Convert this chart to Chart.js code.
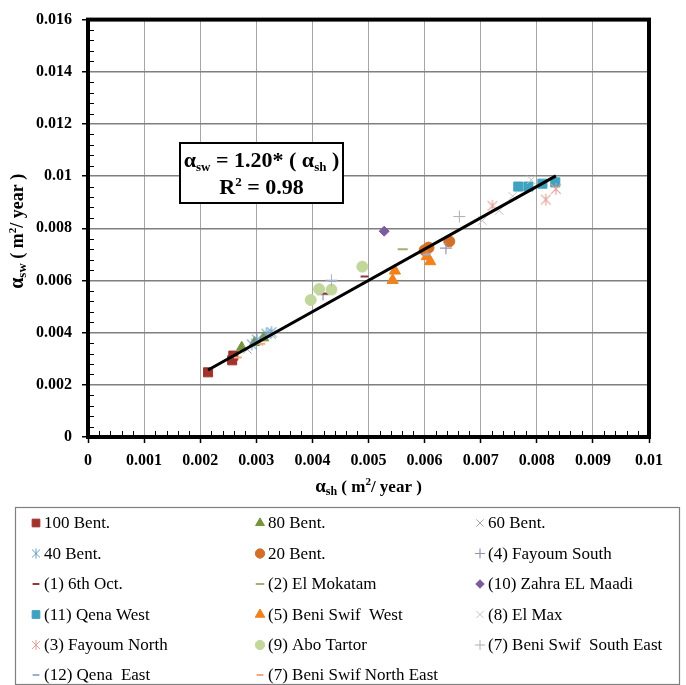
<!DOCTYPE html>
<html>
<head>
<meta charset="utf-8">
<script src="https://cdn.jsdelivr.net/npm/chart.js"></script>
<style>
  html, body { margin: 0; padding: 0; background: #ffffff; }
  canvas { display: block; }
</style>
</head>
<body>
<canvas id="chart" width="686" height="685"></canvas>
<script>
// Shear-stress coefficient pairs [alpha_sh, alpha_sw] in m2/year, one array per soil group
const bent100      = [[0.00214, 0.00248], [0.00257, 0.00294], [0.00259, 0.00312]];
const bent80       = [[0.00274, 0.00344], [0.00297, 0.00362], [0.00313, 0.00380]];
const bent60       = [[0.00284, 0.00336], [0.00304, 0.00366], [0.00327, 0.00392]];
const bent40       = [[0.00292, 0.00355], [0.00301, 0.00373], [0.00318, 0.00396], [0.00327, 0.00402]];
const bent20       = [[0.00600, 0.00716], [0.00607, 0.00726], [0.00644, 0.00750]];
const fayoumSouth  = [[0.00419, 0.00546], [0.00638, 0.00724]];
const october6     = [[0.00421, 0.00550], [0.00493, 0.00615]];
const elMokatam    = [[0.00561, 0.00720]];
const zahraMaadi   = [[0.00528, 0.00789]];
const qenaWest     = [[0.00767, 0.00960], [0.00785, 0.00960], [0.00810, 0.00971], [0.00833, 0.00976]];
const beniSwifWest = [[0.00543, 0.00601], [0.00547, 0.00637], [0.00604, 0.00692], [0.00610, 0.00673]];
const elMax        = [[0.00703, 0.00829], [0.00733, 0.00868], [0.00757, 0.00923], [0.00790, 0.00986]];
const fayoumNorth  = [[0.00721, 0.00886], [0.00816, 0.00910], [0.00834, 0.00951]];
const aboTartor    = [[0.00397, 0.00525], [0.00412, 0.00567], [0.00434, 0.00565], [0.00489, 0.00653]];
const beniSwifSE   = [[0.00434, 0.00601], [0.00662, 0.00845]];
const qenaEast     = [[0.00436, 0.00598], [0.00604, 0.00700]];
const beniSwifNE   = [[0.00267, 0.00305], [0.00309, 0.00357]];

const seriesNames = [
  '100 Bent.', '80 Bent.', '60 Bent.', '40 Bent.', '20 Bent.', '(4) Fayoum South',
  '(1) 6th Oct.', '(2) El Mokatam', '(10) Zahra EL Maadi', '(11) Qena West',
  '(5) Beni Swif  West', '(8) El Max', '(3) Fayoum North', '(9) Abo Tartor',
  '(7) Beni Swif  South East', '(12) Qena  East', '(7) Beni Swif North East'
];
const seriesData = [
  bent100, bent80, bent60, bent40, bent20, fayoumSouth, october6, elMokatam, zahraMaadi,
  qenaWest, beniSwifWest, elMax, fayoumNorth, aboTartor, beniSwifSE, qenaEast, beniSwifNE
];

// Fitted relation alpha_sw = 1.20 * alpha_sh, drawn over the measured range
const fitSlope = 1.20;
const fitRSquared = 0.98;
const fitRange = [0.00214, 0.00834];

// Axis ticks
const xTickLabels = ['0', '0.001', '0.002', '0.003', '0.004', '0.005', '0.006', '0.007', '0.008', '0.009', '0.01'];
const yTickLabels = ['0', '0.002', '0.004', '0.006', '0.008', '0.01', '0.012', '0.014', '0.016'];

// Six-armed asterisk marker (an X crossed by a vertical stroke)
function asterisk(color, size, lw) {
  const c = document.createElement('canvas');
  c.width = size; c.height = size;
  const g = c.getContext('2d');
  const h = size / 2, r = size / 2 - 1, d = r * 0.8;
  g.strokeStyle = color;
  g.lineWidth = lw;
  g.beginPath();
  g.moveTo(h, h - r); g.lineTo(h, h + r);
  g.moveTo(h - d, h - d); g.lineTo(h + d, h + d);
  g.moveTo(h + d, h - d); g.lineTo(h - d, h + d);
  g.stroke();
  return c;
}

// Marker appearance per series (same order as seriesNames)
const markerStyles = [
  { pointStyle: 'rect',     radius: 6.4, fill: '#A0332D', stroke: '#A0332D', width: 1 },
  { pointStyle: 'triangle', radius: 6,   fill: '#77933C', stroke: '#77933C', width: 1 },
  { pointStyle: 'crossRot', radius: 6,   fill: '#A6A6A6', stroke: '#A6A6A6', width: 1 },
  { pointStyle: asterisk('#6B9FC4', 14, 1.1), legendStyle: asterisk('#6B9FC4', 12, 1), radius: 7, fill: '#6B9FC4', stroke: '#6B9FC4', width: 1 },
  { pointStyle: 'circle',   radius: 5.5, fill: '#D2702A', stroke: '#D2702A', width: 1 },
  { pointStyle: 'cross',    radius: 6,   fill: '#9893B3', stroke: '#9893B3', width: 1.2 },
  { pointStyle: 'line',     radius: 4,   fill: '#8E3A3A', stroke: '#8E3A3A', width: 2 },
  { pointStyle: 'line',     radius: 5,   fill: '#A8AE6C', stroke: '#A8AE6C', width: 2 },
  { pointStyle: 'rectRot',  radius: 5,   fill: '#7E5A9E', stroke: '#7E5A9E', width: 1 },
  { pointStyle: 'rect',     radius: 6.4, fill: '#3FA2C0', stroke: '#3FA2C0', width: 1 },
  { pointStyle: 'triangle', radius: 6.5, fill: '#F0821E', stroke: '#F0821E', width: 1 },
  { pointStyle: 'crossRot', radius: 6,   fill: '#C3C3C3', stroke: '#C3C3C3', width: 1 },
  { pointStyle: asterisk('#E0A095', 14, 1.1), legendStyle: asterisk('#E0A095', 12, 1), radius: 7, fill: '#E0A095', stroke: '#E0A095', width: 1 },
  { pointStyle: 'circle',   radius: 5.5, fill: '#C3D69B', stroke: '#C3D69B', width: 1 },
  { pointStyle: 'cross',    radius: 6,   fill: '#B0B0B0', stroke: '#B0B0B0', width: 1 },
  { pointStyle: 'line',     radius: 4,   fill: '#9AAECF', stroke: '#9AAECF', width: 2 },
  { pointStyle: 'line',     radius: 4,   fill: '#F3A97E', stroke: '#F3A97E', width: 2 }
];

const SERIF = '"Liberation Serif", "Times New Roman", serif';
Chart.defaults.font.family = SERIF;
Chart.defaults.color = '#000000';

const datasets = seriesData.map((pairs, i) => {
  const st = markerStyles[i];
  return {
    type: 'scatter',
    label: seriesNames[i],
    data: pairs.map(p => ({ x: p[0], y: p[1] })),
    pointStyle: st.pointStyle,
    pointRadius: st.radius,
    pointBackgroundColor: st.fill,
    pointBorderColor: st.stroke,
    pointBorderWidth: st.width,
    showLine: false,
    order: 100 - i
  };
});
datasets.push({
  type: 'line',
  label: 'fit',
  data: fitRange.map(x => ({ x: x, y: fitSlope * x })),
  borderColor: '#000000',
  borderWidth: 3,
  pointRadius: 0,
  fill: false,
  order: 0
});

// Draws a run of text pieces with their own sizes and vertical offsets (sub/superscripts)
function drawRich(ctx, parts, x, y, align) {
  let total = 0;
  parts.forEach(p => {
    ctx.font = 'bold ' + p[1] + 'px ' + SERIF;
    p.w = ctx.measureText(p[0]).width;
    total += p.w;
  });
  let cx = align === 'center' ? x - total / 2 : x;
  ctx.textAlign = 'left';
  ctx.textBaseline = 'alphabetic';
  parts.forEach(p => {
    ctx.font = 'bold ' + p[1] + 'px ' + SERIF;
    ctx.fillText(p[0], cx, y + p[2]);
    cx += p.w;
  });
}

function drawMarker(ctx, st, x, y) {
  ctx.save();
  ctx.fillStyle = st.fill;
  ctx.strokeStyle = st.stroke;
  ctx.lineWidth = st.width;
  Chart.helpers.drawPoint(ctx, {
    pointStyle: st.legendStyle || st.pointStyle,
    radius: st.radius * 0.85, rotation: 0, borderWidth: st.width
  }, x, y);
  ctx.restore();
}

const decorations = {
  id: 'decorations',
  afterDraw(chart) {
    const ctx = chart.ctx;
    const area = chart.chartArea;
    const xs = chart.scales.x, ys = chart.scales.y;
    ctx.save();

    // minor tick marks pointing into the plot
    ctx.strokeStyle = '#000';
    ctx.lineWidth = 1;
    ctx.beginPath();
    for (let k = 1; k < 50; k++) {
      if (k % 5 === 0) continue;
      const px = Math.round(xs.getPixelForValue(k * 0.0002)) + 0.5;
      ctx.moveTo(px, area.bottom);
      ctx.lineTo(px, area.bottom - 6);
    }
    for (let k = 1; k < 40; k++) {
      if (k % 5 === 0) continue;
      const py = Math.round(ys.getPixelForValue(k * 0.0004)) + 0.5;
      ctx.moveTo(area.left, py);
      ctx.lineTo(area.left + 6, py);
    }
    ctx.stroke();

    // heavy plot frame
    ctx.lineWidth = 4;
    ctx.strokeRect(area.left, area.top, area.right - area.left, area.bottom - area.top);

    // axis titles
    ctx.fillStyle = '#000';
    drawRich(ctx, [['α', 19, 0], ['sh', 12, 3], [' ( m', 17, 0], ['2', 11, -7], ['/ year )', 17, 0]],
      (area.left + area.right) / 2, 492, 'center');
    ctx.save();
    ctx.translate(23, (area.top + area.bottom) / 2 + 3);
    ctx.rotate(-Math.PI / 2);
    drawRich(ctx, [['α', 20, 0], ['sw', 13, 3], [' ( m', 18, 0], ['2', 11, -7], ['/ year )', 18, 0]], 0, 0, 'center');
    ctx.restore();

    // equation box
    const bx = 180, by = 143, bw = 163, bh = 60;
    ctx.fillStyle = '#fff';
    ctx.fillRect(bx, by, bw, bh);
    ctx.strokeStyle = '#000';
    ctx.lineWidth = 2;
    ctx.strokeRect(bx, by, bw, bh);
    ctx.fillStyle = '#000';
    drawRich(ctx, [['α', 22, 0], ['sw', 13, 4], [' = ' + fitSlope.toFixed(2) + '* ( ', 22, 0], ['α', 22, 0], ['sh', 13, 4], [' )', 22, 0]],
      bx + bw / 2, by + 24, 'center');
    drawRich(ctx, [['R', 22, 0], ['2', 13, -8], [' = ' + fitRSquared.toFixed(2), 22, 0]], bx + bw / 2, by + 51, 'center');

    // legend box
    const lx = 15, ly = 507, lw = 664, lh = 177;
    ctx.strokeStyle = '#7f7f7f';
    ctx.lineWidth = 1.2;
    ctx.strokeRect(lx + 0.5, ly + 0.5, lw, lh);
    const colX = [36, 260, 480];
    const rowY = [523, 553.5, 584, 614.5, 645, 675];
    seriesNames.forEach((name, i) => {
      const col = i % 3, row = Math.floor(i / 3);
      const mx = colX[col], my = rowY[row];
      drawMarker(ctx, markerStyles[i], mx, my);
      ctx.fillStyle = '#000';
      ctx.font = '17px ' + SERIF;
      ctx.textAlign = 'left';
      ctx.textBaseline = 'middle';
      ctx.fillText(name, mx + 8, my + 1);
    });
    ctx.restore();
  }
};

new Chart(document.getElementById('chart'), {
  type: 'scatter',
  data: { datasets: datasets },
  options: {
    responsive: false,
    animation: false,
    events: [],
    layout: { padding: { left: 0, top: 14, right: 37, bottom: 218 } },
    plugins: { legend: { display: false }, tooltip: { enabled: false } },
    scales: {
      x: {
        type: 'linear',
        min: 0, max: 0.01,
        afterFit(scale) { scale.height = 30; },
        ticks: {
          stepSize: 0.001,
          padding: 8,
          font: { size: 16, weight: 'bold' },
          color: '#000',
          callback: (v, i) => xTickLabels[i]
        },
        grid: { color: '#A6A6A6', lineWidth: 1, tickColor: '#000', tickLength: 6, tickWidth: 1.5 },
        border: { display: false }
      },
      y: {
        type: 'linear',
        min: 0, max: 0.016,
        afterFit(scale) { scale.width = 88; },
        ticks: {
          stepSize: 0.002,
          padding: 10,
          font: { size: 16, weight: 'bold' },
          color: '#000',
          callback: (v, i) => yTickLabels[i]
        },
        grid: { color: '#7F7F7F', lineWidth: 1.5, tickColor: '#000', tickLength: 6, tickWidth: 1.5 },
        border: { display: false }
      }
    }
  },
  plugins: [decorations]
});
</script>
</body>
</html>
